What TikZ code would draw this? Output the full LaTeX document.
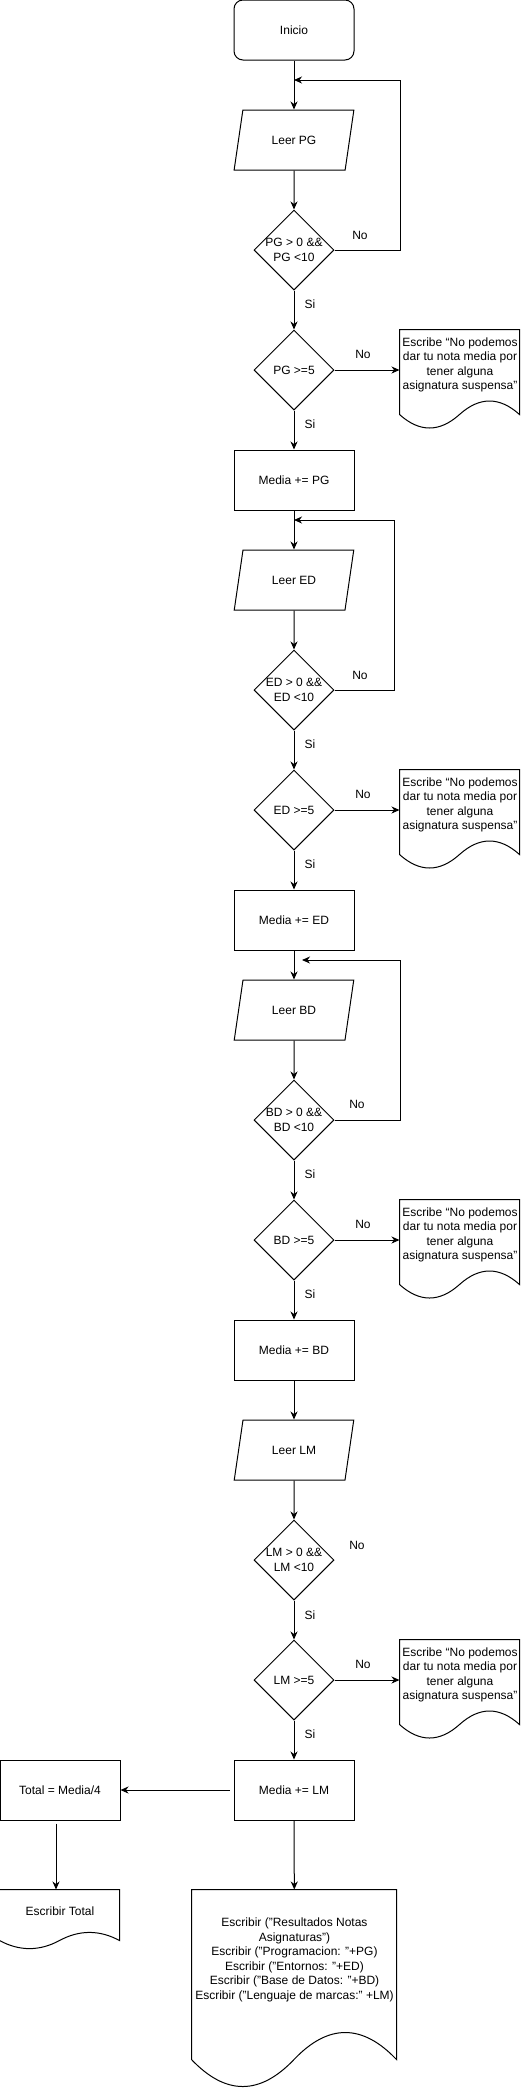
\documentclass[tikz,border=0pt]{standalone}
\usepackage{fontspec}
\setmainfont{Liberation Sans}
\usetikzlibrary{shapes.geometric,arrows.meta,calc}
\newcommand\docshape[3]{\draw[line width=1pt, shift={(#1.north west)}, x=#2pt, y=-#3pt] (0,0) -- (1,0) -- (1,.85) .. controls (0.8333,.67) and (0.6667,.67) .. (.5,.85) .. controls (0.3333,1.03) and (0.1667,1.03) .. (0,.85) -- cycle;}
\begin{document}
\begin{tikzpicture}[x=1pt,y=-1pt, font=\fontsize{12}{14.5}\selectfont, line width=1pt,
 box/.style={draw, rectangle, minimum width=120pt, minimum height=60pt, inner sep=2pt},
 startbox/.style={box, rounded corners=9pt},
 iobox/.style={draw, trapezium, trapezium left angle=71.565, trapezium right angle=108.435, trapezium stretches=true, minimum width=120pt, minimum height=60pt, inner sep=2pt},
 decision/.style={draw, diamond, minimum width=80pt, minimum height=80pt, inner sep=0pt, aspect=1},
 doc/.style={rectangle, inner sep=0pt, align=center},
 lbl/.style={inner sep=0pt},
 arr/.style={-{Stealth[length=8pt,width=7pt,inset=2.5pt]}}]
\fill[white] (0,0) rectangle (521,2091);
\useasboundingbox (0,0) rectangle (521,2091);

% --- PG ---
\node[startbox] (ini) at (294,30) {Inicio};
\node[iobox] (lpg) at (294,140) {Leer PG};
\node[decision, label={[align=center]center:PG > 0 \&\&\\PG <10}] (c1) at (294,250) {};
\node[decision, label={center:PG >=5}] (v1) at (294,370) {};
\node[doc, minimum width=120pt, minimum height=70pt] (d1) at (460,365) {Escribe “No podemos\\dar tu nota media por\\tener alguna\\asignatura suspensa”};
\docshape{d1}{120}{100}
\node[box] (m1) at (294,480) {Media += PG};

% --- ED ---
\node[iobox] (led) at (294,580) {Leer ED};
\node[decision, label={[align=center]center:ED > 0 \&\&\\ED <10}] (c2) at (294,690) {};
\node[decision, label={center:ED >=5}] (v2) at (294,810) {};
\node[doc, minimum width=120pt, minimum height=70pt] (d2) at (460,805) {Escribe “No podemos\\dar tu nota media por\\tener alguna\\asignatura suspensa”};
\docshape{d2}{120}{100}
\node[box] (m2) at (294,920) {Media += ED};

% --- BD ---
\node[iobox] (lbd) at (294,1010) {Leer BD};
\node[decision, label={[align=center]center:BD > 0 \&\&\\BD <10}] (c3) at (294,1120) {};
\node[decision, label={center:BD >=5}] (v3) at (294,1240) {};
\node[doc, minimum width=120pt, minimum height=70pt] (d3) at (460,1235) {Escribe “No podemos\\dar tu nota media por\\tener alguna\\asignatura suspensa”};
\docshape{d3}{120}{100}
\node[box] (m3) at (294,1350) {Media += BD};

% --- LM ---
\node[iobox] (llm) at (294,1450) {Leer LM};
\node[decision, label={[align=center]center:LM > 0 \&\&\\LM <10}] (c4) at (294,1560) {};
\node[decision, label={center:LM >=5}] (v4) at (294,1680) {};
\node[doc, minimum width=120pt, minimum height=70pt] (d4) at (460,1675) {Escribe “No podemos\\dar tu nota media por\\tener alguna\\asignatura suspensa”};
\docshape{d4}{120}{100}
\node[box] (m4) at (294,1790) {Media += LM};

% --- end ---
\node[box] (tot) at (60,1790) {Total = Media/4};
\node[doc, minimum width=120pt, minimum height=42pt] (et) at (60,1911) {Escribir Total};
\docshape{et}{120}{60}
\node[doc, minimum width=205pt, minimum height=140pt] (big) at (294.5,1960) {Escribir ("Resultados Notas\\Asignaturas")\\Escribir ("Programacion: "+PG)\\Escribir ("Entornos: "+ED)\\Escribir ("Base de Datos: "+BD)\\Escribir ("Lenguaje de marcas:" +LM)};
\docshape{big}{205}{200}

% labels
\node[lbl] (no1) at (360,235) {No};
\node[lbl] (si1) at (310,304) {Si};
\node[lbl] (no2) at (363,354) {No};
\node[lbl] (si2) at (310,424) {Si};
\node[lbl] (no3) at (360,675) {No};
\node[lbl] (si3) at (310,744) {Si};
\node[lbl] (no4) at (363,794) {No};
\node[lbl] (si4) at (310,864) {Si};
\node[lbl] (no5) at (357,1104) {No};
\node[lbl] (si5) at (310,1174) {Si};
\node[lbl] (no6) at (363,1224) {No};
\node[lbl] (si6) at (310,1294) {Si};
\node[lbl] (no7) at (357,1545) {No};
\node[lbl] (si7) at (310,1615) {Si};
\node[lbl] (no8) at (363,1664) {No};
\node[lbl] (si8) at (310,1734) {Si};

% loop coordinates
\coordinate (e1) at (294,80);  \coordinate (r1) at (400,80);
\coordinate (e2) at (294,520); \coordinate (r2) at (394,520);
\coordinate (e3) at (302,960); \coordinate (r3) at (400,960);

% connectors
\draw[arr] (ini) -- (lpg);
\draw[arr] (lpg) -- (c1);
\draw[arr] (c1.east) -| (r1) -- (e1);
\draw[arr] (c1) -- (v1);
\draw[arr] (v1.east) -- (v1.east -| d1.west);
\draw[arr] (v1) -- (m1);

\draw[arr] (m1) -- (led);
\draw[arr] (led) -- (c2);
\draw[arr] (c2.east) -| (r2) -- (e2);
\draw[arr] (c2) -- (v2);
\draw[arr] (v2.east) -- (v2.east -| d2.west);
\draw[arr] (v2) -- (m2);

\draw[arr] (m2) -- (lbd);
\draw[arr] (lbd) -- (c3);
\draw[arr] (c3.east) -| (r3) -- (e3);
\draw[arr] (c3) -- (v3);
\draw[arr] (v3.east) -- (v3.east -| d3.west);
\draw[arr] (v3) -- (m3);

\draw[arr] (m3) -- (llm);
\draw[arr] (llm) -- (c4);
\draw[arr] (c4) -- (v4);
\draw[arr] (v4.east) -- (v4.east -| d4.west);
\draw[arr] (v4) -- (m4);

\draw[arr, shorten <=4pt] (m4) -- (tot);
\draw[arr] ([xshift=-4pt,yshift=-3pt]tot.south) -- ([xshift=-4pt]et.north);
\draw[arr] (m4) -- (big);
\end{tikzpicture}
\end{document}
